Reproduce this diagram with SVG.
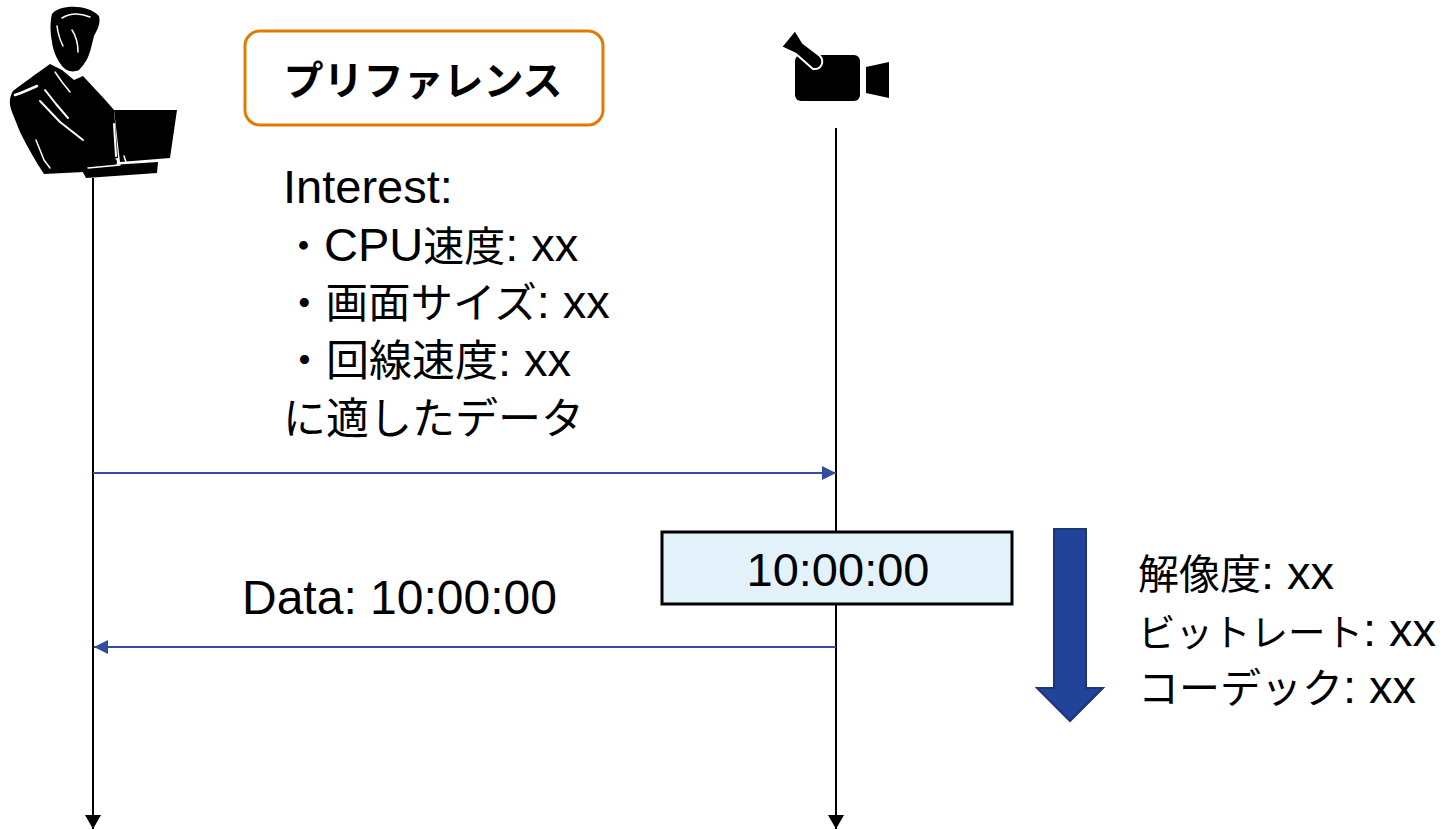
<svg xmlns="http://www.w3.org/2000/svg" width="1450" height="830" viewBox="0 0 1450 830">
  <style>
    .txt { font-family: "Liberation Sans", "Noto Sans CJK JP", sans-serif; font-size: 47px; fill: #000; }
    .jp { font-family: "Noto Sans CJK JP", "Liberation Sans", sans-serif; font-size: 41px; }
    .life { stroke: #000; stroke-width: 2; fill: none; }
    .msg { stroke: #2F4E9E; stroke-width: 2; fill: none; }
    .hl { stroke: #fff; fill: none; stroke-linecap: round; stroke-linejoin: round; }
  </style>
  <defs>
    <marker id="lifeEnd" viewBox="0 0 14 16" refX="14" refY="8" markerWidth="14" markerHeight="16" markerUnits="userSpaceOnUse" orient="auto">
      <path d="M0,0 L14,8 L0,16 Z" fill="#000"/>
    </marker>
    <marker id="msgEnd" viewBox="0 0 14 14" refX="14" refY="7" markerWidth="14" markerHeight="14" markerUnits="userSpaceOnUse" orient="auto">
      <path d="M0,0 L14,7 L0,14 Z" fill="#2F4E9E"/>
    </marker>
  </defs>

  <rect width="1450" height="830" fill="#fff"/>

  <!-- lifelines and messages -->
  <g id="connectors">
    <line class="life" x1="93" y1="178" x2="93" y2="829" marker-end="url(#lifeEnd)"/>
    <line class="life" x1="836" y1="128" x2="836" y2="829" marker-end="url(#lifeEnd)"/>
    <line class="msg" x1="93" y1="473" x2="836" y2="473" marker-end="url(#msgEnd)"/>
    <line class="msg" x1="836" y1="647" x2="94" y2="647" marker-end="url(#msgEnd)"/>
  </g>

  <!-- user working at a laptop -->
  <g id="user">
    <!-- head and hair -->
    <path d="M52,14 C60,4 88,4 99,16 C101,24 97,30 94,36 L91,48 C89,56 86,63 79,70 C72,73 66,71 62,66 C56,58 53,50 52,42 C50,32 50,22 52,14 Z" fill="#000"/>
    <!-- torso and arms -->
    <path d="M50,64 L62,70 L74,80 L83,76 C92,86 104,98 114,110 L118,158 C110,160 100,162 92,164 L84,172 L44,174 C36,162 28,148 20,132 L12,112 C9,104 9,98 13,91 C22,84 36,74 50,64 Z" fill="#000"/>
    <!-- laptop screen and base -->
    <path d="M114,110 L177,110 L170,158 L120,162 Z" fill="#000"/>
    <path d="M80,167 L158,162 L157,173 L86,178 Z" fill="#000"/>
    <ellipse cx="100" cy="162" rx="17" ry="7" fill="#000"/>
    <!-- white highlights -->
    <path class="hl" stroke-width="1.5" d="M62,18 C70,13 80,13 90,17"/>
    <path class="hl" stroke-width="1.5" d="M57,26 C58,34 60,40 63,46"/>
    <path class="hl" stroke-width="1.5" d="M72,30 C76,36 78,44 78,52"/>
    <path class="hl" stroke-width="2.5" d="M15,95 C24,92 30,89 37,86"/>
    <path class="hl" stroke-width="2" d="M45,90 L56,104 L68,118"/>
    <path class="hl" stroke-width="2" d="M40,101 L60,122 L83,140"/>
    <path class="hl" stroke-width="1.5" d="M55,72 L62,82 L70,92"/>
    <path class="hl" stroke-width="1.5" d="M36,140 L44,160 L50,168"/>
    <path class="hl" stroke-width="2" d="M114,124 L116,156"/>
    <path class="hl" stroke-width="1.5" d="M88,168 L120,165"/>
    <path class="hl" stroke-width="1.5" d="M124,156 L126,162"/>
  </g>

  <!-- video camera -->
  <g id="camera">
    <rect x="795" y="55" width="65" height="46" rx="6" fill="#000"/>
    <path d="M866,67 L889,62 L889,98 L866,93 Z" fill="#000"/>
    <path d="M781,47 L795,30 L803,43 L820,56 C825,62 821,70 813,69 L796,54 Z" fill="#000" stroke="#fff" stroke-width="2" stroke-linejoin="round"/>
  </g>

  <!-- preference label -->
  <g id="preference">
    <rect x="245" y="31" width="358" height="94" rx="15" fill="#fff" stroke="#E07B00" stroke-width="3"/>
    <text x="423" y="95" text-anchor="middle" class="txt jp" style="font-size:40px" font-weight="bold">プリファレンス</text>
  </g>

  <!-- interest message text -->
  <g id="interest-label">
    <text class="txt" x="283" y="203">Interest:</text>
    <text class="txt" x="283" y="261"><tspan class="jp">・</tspan>CPU<tspan class="jp">速度</tspan>: xx</text>
    <text class="txt" x="283" y="318"><tspan class="jp" style="font-size:42.5px">・画面サイズ</tspan>: xx</text>
    <text class="txt" x="283" y="376"><tspan class="jp" style="font-size:43px">・回線速度</tspan>: xx</text>
    <text class="txt jp" x="283" y="434" style="font-size:43px">に適したデータ</text>
  </g>

  <!-- data message text -->
  <g id="data-label">
    <text class="txt" x="242" y="614" style="font-size:48px">Data: 10:00:00</text>
  </g>

  <!-- timestamp box -->
  <g id="timestamp">
    <rect x="662" y="532" width="350" height="72" fill="#E3F1FB" stroke="#000" stroke-width="3"/>
    <text class="txt" x="838" y="586" text-anchor="middle">10:00:00</text>
  </g>

  <!-- downward quality arrow -->
  <g id="quality-arrow">
    <path d="M1054,529 L1086,529 L1086,688 L1103,688 L1070,721 L1037,688 L1054,688 Z" fill="#21449A" stroke="#1B3578" stroke-width="2"/>
  </g>

  <!-- quality parameters -->
  <g id="quality-label">
    <text class="txt" x="1138" y="589"><tspan class="jp">解像度</tspan>: xx</text>
    <text class="txt" x="1138" y="646"><tspan class="jp" style="font-size:37.5px">ビットレート</tspan>: xx</text>
    <text class="txt" x="1138" y="703"><tspan class="jp">コーデック</tspan>: xx</text>
  </g>
</svg>
